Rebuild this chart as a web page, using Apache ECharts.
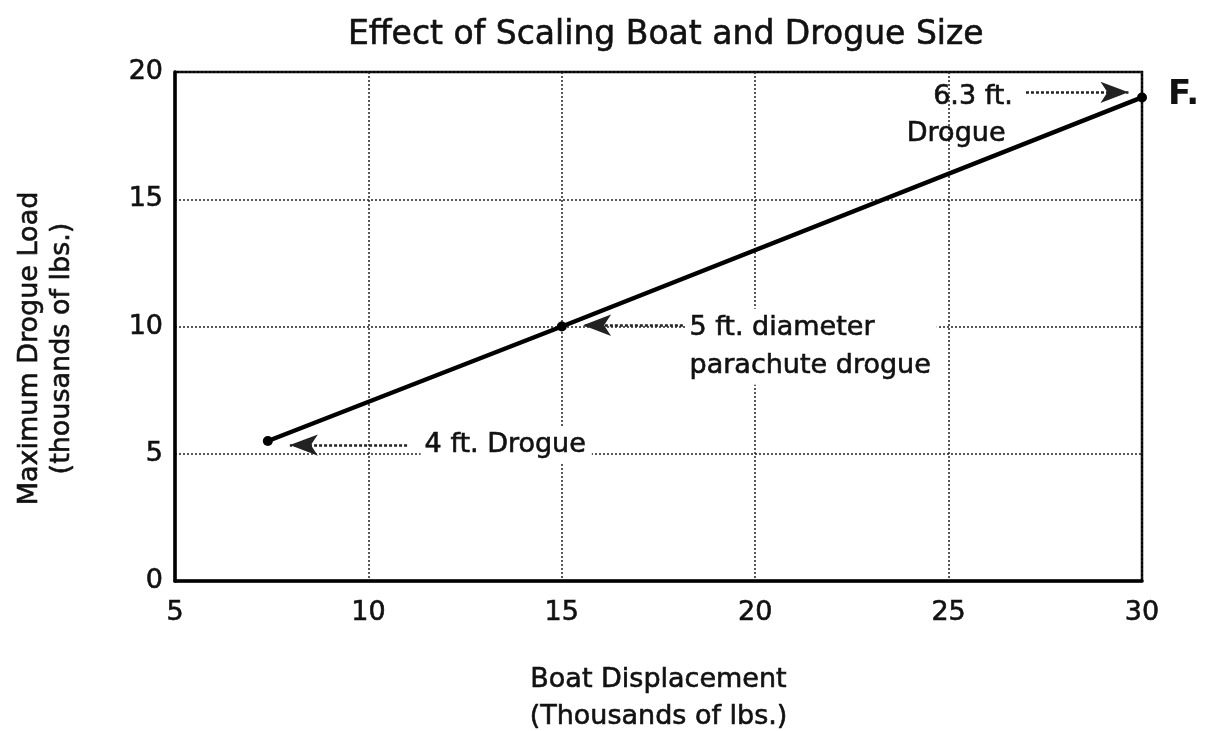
<!DOCTYPE html>
<html>
<head>
<meta charset="utf-8">
<script src="https://cdn.jsdelivr.net/npm/echarts@6/dist/echarts.min.js"></script>
<style>html,body{margin:0;padding:0;background:#fff}#c{width:1210px;height:731px}</style>
</head>
<body>
<div id="c"></div>
<script>
// Data
const displacement = [7.4, 15, 30];          // thousands of lbs
const drogueLoad = [5.5, 10, 19];            // thousands of lbs
const xTicks = [5, 10, 15, 20, 25, 30];
const yTicks = [0, 5, 10, 15, 20];
const noteTexts = ['4 ft. Drogue', '5 ft. diameter\nparachute drogue', '6.3 ft.', 'Drogue'];
const noteAnchors = [[11.35, 5.34], [18.2, 9.2], [24.6, 19.02], [23.92, 17.56]];
const noteBg = [true, true, false, false];
const arrowFrom = [[11.0, 5.34], [18.13, 10.05], [27.0, 19.2]];
const arrowTo = [[7.97, 5.34], [15.55, 10.05], [29.65, 19.2]];

const FONT = 'DejaVu Sans';
const INK = '#111';
const thick = {textBorderColor: INK, textBorderWidth: 0.6};
const chart = echarts.init(document.getElementById('c'), null, {renderer: 'canvas'});

chart.setOption({
  animation: false,
  backgroundColor: '#fff',
  title: [
    {text: 'Effect of Scaling Boat and Drogue Size', left: 343, top: 14,
     textStyle: Object.assign({fontFamily: FONT, fontSize: 33, fontWeight: 'normal', color: INK}, thick)},
    {text: 'F.', left: 1163, top: 73,
     textStyle: {fontFamily: FONT, fontSize: 34, fontWeight: 'bold', color: INK}}
  ],
  grid: {left: 175, right: 68, top: 72, bottom: 150, show: true, borderColor: '#000', borderWidth: 2.5,
         outerBoundsMode: 'none', containLabel: false},
  xAxis: {
    type: 'value', min: xTicks[0], max: xTicks[xTicks.length - 1], interval: 5,
    name: 'Boat Displacement\n(Thousands of lbs.)', nameLocation: 'middle', nameGap: 80,
    nameTextStyle: Object.assign({fontFamily: FONT, fontSize: 27, color: INK, lineHeight: 37}, thick),
    axisLine: {lineStyle: {color: '#000', width: 3.5}},
    axisTick: {show: false},
    axisLabel: Object.assign({fontFamily: FONT, fontSize: 27, color: INK, margin: 18}, thick),
    splitLine: {show: true, lineStyle: {color: '#222', width: 1.5, type: [2, 2]}}
  },
  yAxis: {
    type: 'value', min: yTicks[0], max: yTicks[yTicks.length - 1], interval: 5,
    name: 'Maximum Drogue Load\n(thousands of lbs.)', nameLocation: 'middle', nameGap: 97,
    nameTextStyle: Object.assign({fontFamily: FONT, fontSize: 27, color: INK, lineHeight: 32, padding: [0, 44, 0, 0]}, thick),
    axisLine: {lineStyle: {color: '#000', width: 3.5}},
    axisTick: {show: false},
    axisLabel: Object.assign({fontFamily: FONT, fontSize: 27, color: INK, margin: 12, padding: [0, 0, 26, 0]}, thick),
    splitLine: {show: true, lineStyle: {color: '#222', width: 1.5, type: [2, 2]}}
  },
  series: [
    {
      type: 'scatter', name: 'notes', z: 5, symbolSize: 0,
      itemStyle: {opacity: 1},
      data: noteTexts.map((t, i) => ({
        name: t, value: noteAnchors[i],
        label: Object.assign({
          show: true, position: 'right', distance: 0, formatter: '{b}',
          fontFamily: FONT, fontSize: 27, color: INK, lineHeight: 38,
          backgroundColor: noteBg[i] ? '#fff' : 'transparent',
          padding: noteBg[i] ? [0, 6, 0, 4] : 0
        }, thick)
      })),
      markLine: {
        silent: true, symbol: ['none', 'arrow'], symbolSize: [16, 28],
        label: {show: false},
        lineStyle: {color: '#222', width: 2.5, type: [3, 2]},
        data: arrowFrom.map((f, i) => [{coord: f}, {coord: arrowTo[i]}])
      }
    },
    {
      type: 'line', name: 'load', z: 10,
      data: displacement.map((x, i) => [x, drogueLoad[i]]),
      lineStyle: {color: '#000', width: 4.5},
      itemStyle: {color: '#000'},
      symbol: 'circle', symbolSize: 10, showSymbol: true, clip: false
    }
  ]
});
</script>
</body>
</html>
